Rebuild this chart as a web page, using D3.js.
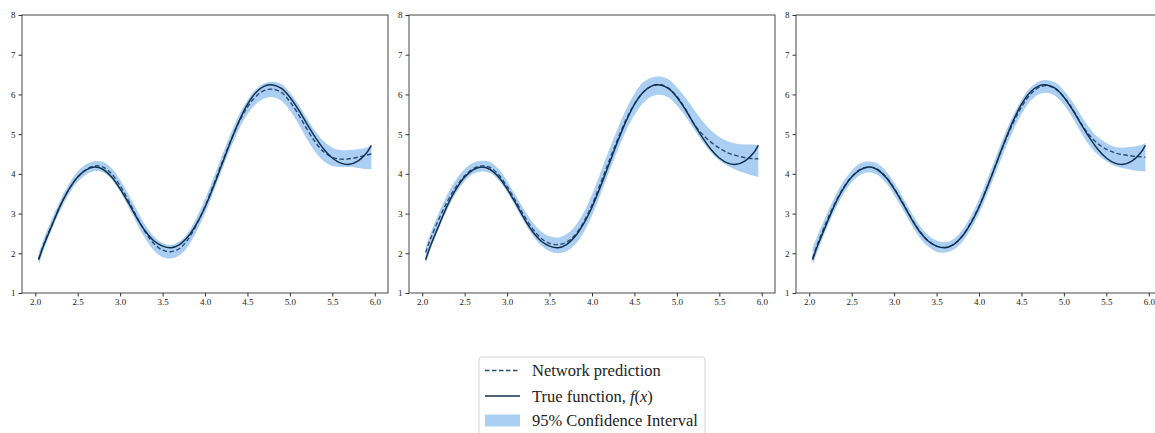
<!DOCTYPE html>
<html>
<head>
<meta charset="utf-8">
<script src="https://cdn.jsdelivr.net/npm/d3@7"></script>
<style>
  body { margin: 0; background: #fff; }
  svg { display: block; }
  .tick text { font-family: "Liberation Serif", "DejaVu Serif", serif; font-size: 9px; fill: #222; }
  .legend text { font-family: "Liberation Serif", "DejaVu Serif", serif; font-size: 16.5px; fill: #222; }
</style>
</head>
<body>
<svg id="chart"></svg>
<script>
// x positions shared by every series
const xs = [2.04, 2.1, 2.2, 2.3, 2.4, 2.5, 2.6, 2.7, 2.8, 2.9, 3.0, 3.1, 3.2, 3.3, 3.4, 3.5, 3.6, 3.7, 3.8, 3.9,
            4.0, 4.1, 4.2, 4.3, 4.4, 4.5, 4.6, 4.7, 4.8, 4.9, 5.0, 5.1, 5.2, 5.3, 5.4, 5.5, 5.6, 5.7, 5.8, 5.9, 5.96];

// true function f(x), same in all three panels
const trueF = [1.84, 2.20, 2.72, 3.22, 3.62, 3.92, 4.10, 4.17, 4.11, 3.92, 3.62, 3.26, 2.88, 2.55, 2.31, 2.18, 2.14, 2.22, 2.42, 2.74,
               3.16, 3.68, 4.24, 4.80, 5.32, 5.75, 6.05, 6.21, 6.24, 6.15, 5.93, 5.62, 5.26, 4.92, 4.62, 4.40, 4.27, 4.24, 4.32, 4.52, 4.72];

// network predictions, one per panel
const pred1 = [1.86, 2.22, 2.74, 3.22, 3.62, 3.92, 4.11, 4.20, 4.17, 4.00, 3.70, 3.32, 2.90, 2.52, 2.24, 2.08, 2.04, 2.12, 2.35, 2.72,
               3.18, 3.72, 4.28, 4.82, 5.30, 5.68, 5.95, 6.10, 6.13, 6.05, 5.82, 5.50, 5.13, 4.80, 4.55, 4.42, 4.37, 4.38, 4.42, 4.47, 4.50];
const pred2 = [2.02, 2.38, 2.88, 3.32, 3.68, 3.95, 4.13, 4.20, 4.16, 3.98, 3.68, 3.32, 2.95, 2.62, 2.38, 2.25, 2.22, 2.28, 2.46, 2.78,
               3.22, 3.76, 4.32, 4.86, 5.36, 5.76, 6.05, 6.21, 6.25, 6.16, 5.95, 5.64, 5.26, 5.00, 4.80, 4.65, 4.53, 4.46, 4.41, 4.38, 4.38];
const pred3 = [1.88, 2.25, 2.78, 3.25, 3.64, 3.93, 4.11, 4.17, 4.12, 3.94, 3.64, 3.28, 2.90, 2.56, 2.32, 2.18, 2.15, 2.22, 2.43, 2.76,
               3.18, 3.69, 4.24, 4.78, 5.27, 5.68, 5.99, 6.17, 6.22, 6.14, 5.94, 5.64, 5.28, 4.98, 4.76, 4.62, 4.53, 4.48, 4.45, 4.43, 4.42];

// 95% confidence interval bounds, per panel
const lower1 = [1.70, 2.08, 2.62, 3.10, 3.50, 3.80, 3.98, 4.07, 4.04, 3.86, 3.55, 3.16, 2.74, 2.36, 2.07, 1.90, 1.87, 1.95, 2.18, 2.55,
                3.00, 3.54, 4.10, 4.64, 5.12, 5.50, 5.76, 5.90, 5.93, 5.84, 5.60, 5.26, 4.88, 4.55, 4.32, 4.20, 4.17, 4.17, 4.15, 4.12, 4.11];
const upper1 = [2.00, 2.36, 2.88, 3.36, 3.76, 4.06, 4.24, 4.32, 4.30, 4.14, 3.85, 3.48, 3.08, 2.70, 2.42, 2.26, 2.21, 2.30, 2.52, 2.90,
                3.36, 3.90, 4.46, 5.00, 5.48, 5.86, 6.13, 6.28, 6.32, 6.26, 6.05, 5.75, 5.40, 5.07, 4.82, 4.66, 4.60, 4.60, 4.62, 4.66, 4.70];
const lower2 = [1.74, 2.12, 2.66, 3.13, 3.52, 3.82, 4.00, 4.06, 4.02, 3.84, 3.54, 3.17, 2.79, 2.45, 2.20, 2.05, 2.00, 2.05, 2.22, 2.52,
                2.95, 3.48, 4.04, 4.58, 5.08, 5.48, 5.78, 5.95, 5.99, 5.92, 5.72, 5.45, 5.13, 4.82, 4.55, 4.34, 4.20, 4.10, 4.02, 3.95, 3.92];
const upper2 = [2.15, 2.52, 3.04, 3.50, 3.86, 4.12, 4.28, 4.33, 4.30, 4.12, 3.82, 3.46, 3.10, 2.78, 2.55, 2.43, 2.40, 2.48, 2.68, 3.02,
                3.48, 4.03, 4.60, 5.13, 5.62, 6.02, 6.30, 6.42, 6.45, 6.38, 6.18, 5.92, 5.62, 5.34, 5.10, 4.93, 4.82, 4.76, 4.74, 4.74, 4.73];
const lower3 = [1.70, 2.06, 2.60, 3.08, 3.48, 3.78, 3.97, 4.04, 3.98, 3.78, 3.47, 3.11, 2.73, 2.40, 2.17, 2.04, 2.02, 2.09, 2.28, 2.59,
                3.00, 3.50, 4.04, 4.58, 5.08, 5.50, 5.82, 6.00, 6.04, 5.96, 5.74, 5.42, 5.05, 4.72, 4.48, 4.32, 4.20, 4.14, 4.10, 4.07, 4.05];
const upper3 = [2.15, 2.46, 2.96, 3.42, 3.80, 4.08, 4.26, 4.31, 4.26, 4.08, 3.78, 3.42, 3.04, 2.70, 2.46, 2.32, 2.28, 2.36, 2.58, 2.92,
                3.36, 3.88, 4.44, 4.98, 5.46, 5.86, 6.16, 6.32, 6.36, 6.30, 6.10, 5.82, 5.48, 5.16, 4.92, 4.78, 4.68, 4.66, 4.68, 4.72, 4.78];

const xTicks = [2.0, 2.5, 3.0, 3.5, 4.0, 4.5, 5.0, 5.5, 6.0];
const yTicks = [1, 2, 3, 4, 5, 6, 7, 8];
const legendLabels = ["Network prediction", "True function, ", "95% Confidence Interval"];

const panels = [
  {pred: pred1, lo: lower1, hi: upper1, left: 22},
  {pred: pred2, lo: lower2, hi: upper2, left: 409},
  {pred: pred3, lo: lower3, hi: upper3, left: 796}
];

const W = 1155, H = 433,
  plotW = 366, plotTop = 15, plotH = 278,
  bandColor = "#abcff3", solidColor = "#12304f", dashColor = "#2c4b74";

let svg = d3.select("#chart").attr("width", W).attr("height", H);

let x = d3.scaleLinear().domain([1.844, 6.156]).range([0, plotW]),
    y = d3.scaleLinear().domain([1, 8]).range([plotH, 0]);

let area = d3.area()
    .x(function(d, i) { return x(xs[i]); })
    .y0(function(d) { return y(d[0]); })
    .y1(function(d) { return y(d[1]); })
    .curve(d3.curveCatmullRom);
let line = d3.line()
    .x(function(d, i) { return x(xs[i]); })
    .y(function(d) { return y(d); })
    .curve(d3.curveCatmullRom);

panels.forEach(function(p) {
  let g = svg.append("g").attr("transform", "translate(" + p.left + "," + plotTop + ")");

  g.append("path")
    .datum(p.lo.map(function(v, i) { return [v, p.hi[i]]; }))
    .attr("d", area)
    .attr("fill", bandColor);
  g.append("path")
    .datum(p.pred)
    .attr("d", line)
    .attr("fill", "none")
    .attr("stroke", dashColor)
    .attr("stroke-width", 1.4)
    .attr("stroke-dasharray", "4.5,2.5");
  g.append("path")
    .datum(trueF)
    .attr("d", line)
    .attr("fill", "none")
    .attr("stroke", solidColor)
    .attr("stroke-width", 1.5);

  g.append("rect")
    .attr("x", 0).attr("y", 0)
    .attr("width", plotW).attr("height", plotH)
    .attr("fill", "none")
    .attr("stroke", "#333")
    .attr("stroke-width", 0.9);

  g.append("g")
    .attr("transform", "translate(0," + plotH + ")")
    .call(d3.axisBottom(x).tickValues(xTicks).tickFormat(d3.format(".1f")).tickSize(3.5).tickPadding(2))
    .call(function(a) { a.select(".domain").remove(); a.selectAll("line").attr("stroke", "#333"); });
  g.append("g")
    .call(d3.axisLeft(y).tickValues(yTicks).tickFormat(d3.format("d")).tickSize(3.5).tickPadding(3))
    .call(function(a) { a.select(".domain").remove(); a.selectAll("line").attr("stroke", "#333"); });
});

// legend
let lg = svg.append("g").attr("class", "legend").attr("transform", "translate(479,357)");
lg.append("rect")
  .attr("x", 0).attr("y", 0).attr("width", 226).attr("height", 90)
  .attr("rx", 3)
  .attr("fill", "#fff")
  .attr("stroke", "#d4d4d4")
  .attr("stroke-width", 1);

let rowY = [13.5, 39, 63.5];
lg.append("line")
  .attr("x1", 6).attr("x2", 41).attr("y1", rowY[0]).attr("y2", rowY[0])
  .attr("stroke", dashColor).attr("stroke-width", 1.4).attr("stroke-dasharray", "4.5,2.5");
lg.append("line")
  .attr("x1", 6).attr("x2", 41).attr("y1", rowY[1]).attr("y2", rowY[1])
  .attr("stroke", solidColor).attr("stroke-width", 1.5);
lg.append("rect")
  .attr("x", 6).attr("y", rowY[2] - 6).attr("width", 35).attr("height", 12)
  .attr("fill", bandColor);

legendLabels.forEach(function(t, i) {
  let tx = lg.append("text")
    .attr("x", 53).attr("y", rowY[i])
    .attr("dy", "0.35em")
    .text(t);
  if (i === 1) {
    tx.append("tspan").attr("font-style", "italic").text("f");
    tx.append("tspan").text("(");
    tx.append("tspan").attr("font-style", "italic").text("x");
    tx.append("tspan").text(")");
  }
});
</script>
</body>
</html>
